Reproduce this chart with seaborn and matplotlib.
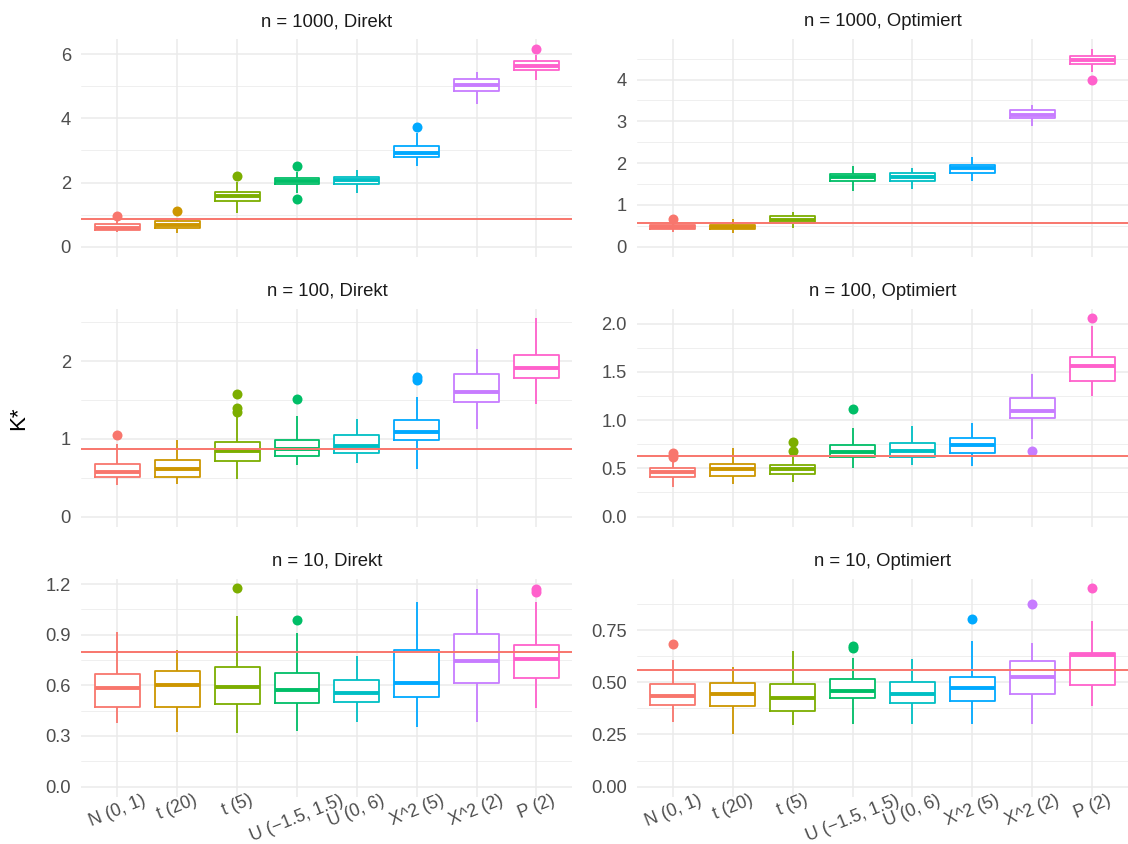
import numpy as np
import pandas as pd
import matplotlib
matplotlib.use("Agg")
import matplotlib.pyplot as plt
from matplotlib.ticker import MultipleLocator, FormatStrFormatter
import seaborn as sns

# Distributions on the x axis and their colours
categories = ["N (0, 1)", "t (20)", "t (5)", "U (\u22121.5, 1.5)",
              "U (0, 6)", "X^2 (5)", "X^2 (2)", "P (2)"]
palette = ["#F8766D", "#CD9600", "#7CAE00", "#00BE67",
           "#00BFC4", "#00A9FF", "#C77CFF", "#FF61CC"]

panel_titles = ["n = 1000, Direkt", "n = 1000, Optimiert",
                "n = 100, Direkt", "n = 100, Optimiert",
                "n = 10, Direkt", "n = 10, Optimiert"]

# Box summaries per panel, rows: lower whisker, Q1, median, Q3, upper whisker
n1000_direkt = [
    [0.45, 0.415, 1.06, 1.69, 1.68, 2.51, 4.44, 5.19],
    [0.52, 0.60, 1.42, 1.96, 1.94, 2.79, 4.85, 5.51],
    [0.60, 0.68, 1.58, 2.05, 2.08, 2.93, 5.04, 5.63],
    [0.71, 0.79, 1.71, 2.15, 2.18, 3.13, 5.23, 5.77],
    [0.85, 0.91, 2.02, 2.34, 2.39, 3.53, 5.45, 5.97],
]
n1000_direkt_out = [[0.97], [1.11], [2.20], [1.50, 2.51], [], [3.74], [], [6.17]]

n1000_opt = [
    [0.36, 0.32, 0.46, 1.34, 1.38, 1.58, 2.88, 4.18],
    [0.42, 0.43, 0.58, 1.58, 1.58, 1.77, 3.07, 4.36],
    [0.47, 0.47, 0.65, 1.68, 1.66, 1.88, 3.15, 4.46],
    [0.52, 0.52, 0.73, 1.74, 1.76, 1.96, 3.26, 4.56],
    [0.60, 0.66, 0.84, 1.94, 1.88, 2.14, 3.39, 4.74],
]
n1000_opt_out = [[0.66], [], [], [], [], [], [], [3.98]]

n100_direkt = [
    [0.41, 0.42, 0.48, 0.66, 0.69, 0.615, 1.13, 1.445],
    [0.503, 0.51, 0.71, 0.78, 0.82, 0.98, 1.48, 1.78],
    [0.58, 0.615, 0.85, 0.87, 0.91, 1.09, 1.60, 1.91],
    [0.675, 0.73, 0.955, 0.99, 1.05, 1.24, 1.84, 2.085],
    [0.94, 0.98, 1.30, 1.29, 1.26, 1.54, 2.15, 2.55],
]
n100_direkt_out = [[1.045], [], [1.35, 1.40, 1.575], [1.51], [], [1.76, 1.79], [], []]

n100_opt = [
    [0.305, 0.34, 0.356, 0.505, 0.536, 0.522, 0.803, 1.249],
    [0.415, 0.425, 0.44, 0.616, 0.623, 0.664, 1.024, 1.408],
    [0.46, 0.49, 0.49, 0.668, 0.678, 0.747, 1.09, 1.557],
    [0.50, 0.55, 0.54, 0.747, 0.765, 0.813, 1.225, 1.654],
    [0.58, 0.71, 0.62, 0.917, 0.94, 0.969, 1.474, 1.98],
]
n100_opt_out = [[0.62, 0.66], [], [0.685, 0.77], [1.118], [], [], [0.685], [2.055]]

n10_direkt = [
    [0.377, 0.322, 0.316, 0.328, 0.381, 0.351, 0.381, 0.466],
    [0.472, 0.47, 0.487, 0.495, 0.503, 0.531, 0.612, 0.641],
    [0.582, 0.602, 0.592, 0.572, 0.553, 0.616, 0.744, 0.758],
    [0.667, 0.685, 0.709, 0.671, 0.63, 0.807, 0.906, 0.841],
    [0.914, 0.81, 1.012, 0.91, 0.772, 1.095, 1.17, 1.091],
]
n10_direkt_out = [[], [], [1.174], [0.987], [], [], [], [1.15, 1.17]]

n10_opt = [
    [0.31, 0.251, 0.294, 0.299, 0.302, 0.299, 0.302, 0.384],
    [0.393, 0.385, 0.361, 0.427, 0.401, 0.409, 0.446, 0.485],
    [0.433, 0.443, 0.427, 0.459, 0.446, 0.472, 0.526, 0.63],
    [0.494, 0.496, 0.493, 0.515, 0.502, 0.526, 0.603, 0.638],
    [0.609, 0.574, 0.648, 0.616, 0.614, 0.699, 0.686, 0.792],
]
n10_opt_out = [[0.683], [], [], [0.662, 0.675], [], [0.803], [0.873], [0.95]]

# Reference level K* drawn as a horizontal line in each panel
thresholds = [0.85, 0.56, 0.873, 0.633, 0.795, 0.561]

# y-axis break spacing and label decimals per panel
major_steps = [2, 1, 1, 0.5, 0.3, 0.25]
decimals = [0, 0, 0, 1, 1, 2]

summaries = [n1000_direkt, n1000_opt, n100_direkt, n100_opt, n10_direkt, n10_opt]
outliers = [n1000_direkt_out, n1000_opt_out, n100_direkt_out,
            n100_opt_out, n10_direkt_out, n10_opt_out]

# Each box is expanded into 17 ordered values whose quartiles are exactly
# Q1 / median / Q3; the whisker ends sit at the 2.5th and 13.5th order
# statistic, which the percentile whiskers below pick out.
SLOTS = 4
WHIS = (100 * 2.5 / 16, 100 * 13.5 / 16)


def box_values(lo, q1, med, q3, hi, outs):
    low_out = sorted(v for v in outs if v < q1)
    high_out = sorted(v for v in outs if v > q3)
    low = low_out + [lo] * (SLOTS - len(low_out))
    high = [hi] * (SLOTS - len(high_out)) + high_out
    return low + [q1] * 4 + [med] * 4 + [q3] + high


def panel_frame(summary, outs):
    rows = []
    for i, cat in enumerate(categories):
        lo, q1, med, q3, hi = (summary[r][i] for r in range(5))
        for v in box_values(lo, q1, med, q3, hi, outs[i]):
            rows.append((cat, v))
    return pd.DataFrame(rows, columns=["dist", "K"])


sns.set_theme(style="white")
plt.rcParams["font.family"] = ["Liberation Sans", "DejaVu Sans"]

W, H = 1128, 844
fig = plt.figure(figsize=(W / 100, H / 100), dpi=100)

col_x = [81.4, 637.0]
row_top = [38.7, 308.5, 578.5]
ax_w, ax_h = 491.0, 218.0

grid_col = "#EBEBEB"
text_col = "#4D4D4D"

for k in range(6):
    r, c = divmod(k, 2)
    ax = fig.add_axes([col_x[c] / W, (H - row_top[r] - ax_h) / H, ax_w / W, ax_h / H])
    df = panel_frame(summaries[k], outliers[k])

    # white box bodies hide the grid behind each box
    sns.boxplot(data=df, x="dist", y="K", order=categories, color="white",
                linecolor="white", linewidth=0, width=0.75, whis=WHIS,
                showfliers=False, showcaps=False, fill=True, ax=ax)
    # coloured outlines, whiskers, medians and outliers
    sns.boxplot(data=df, x="dist", y="K", hue="dist", order=categories,
                hue_order=categories, palette=palette, legend=False,
                fill=False, width=0.75, whis=WHIS, showcaps=False,
                linewidth=1.3, medianprops={"linewidth": 2.8},
                flierprops={"marker": "o", "markersize": 7.2,
                            "markeredgewidth": 0},
                ax=ax)
    for ln in ax.lines:
        if ln.get_marker() == "o":
            ln.set_markerfacecolor(ln.get_markeredgecolor())

    ax.axhline(thresholds[k], color="#F8766D", lw=1.4, zorder=6)

    vals = df["K"].to_numpy()
    top = vals.max()
    ax.set_ylim(-0.05 * top, 1.05 * top)
    ax.set_xlim(-0.6, 7.6)

    step = major_steps[k]
    ax.yaxis.set_major_locator(MultipleLocator(step))
    ax.yaxis.set_minor_locator(MultipleLocator(step / 2))
    ax.yaxis.set_major_formatter(FormatStrFormatter(f"%.{decimals[k]}f"))

    ax.set_axisbelow(True)
    ax.grid(axis="y", which="major", color=grid_col, lw=1.1)
    ax.grid(axis="y", which="minor", color=grid_col, lw=0.55)
    ax.grid(axis="x", which="major", color=grid_col, lw=1.1)
    for s in ax.spines.values():
        s.set_visible(False)

    ax.tick_params(axis="both", which="both", length=0, labelsize=13.2,
                   labelcolor=text_col)
    ax.tick_params(axis="y", pad=7.5)
    ax.set_xlabel("")
    ax.set_ylabel("")
    if r < 2:
        ax.tick_params(axis="x", labelbottom=False)
    else:
        ax.tick_params(axis="x", labelrotation=22, pad=-3.5, labelsize=12.8)
        for lab in ax.get_xticklabels():
            lab.set_horizontalalignment("center")
    ax.set_title(panel_titles[k], fontsize=13.3, color="#1A1A1A", pad=9)

fig.text(19 / W, 1 - 418 / H, "K*", rotation=90, ha="center", va="center",
         fontsize=16, color="black")

fig.savefig("out.png", dpi=100, facecolor="white")
